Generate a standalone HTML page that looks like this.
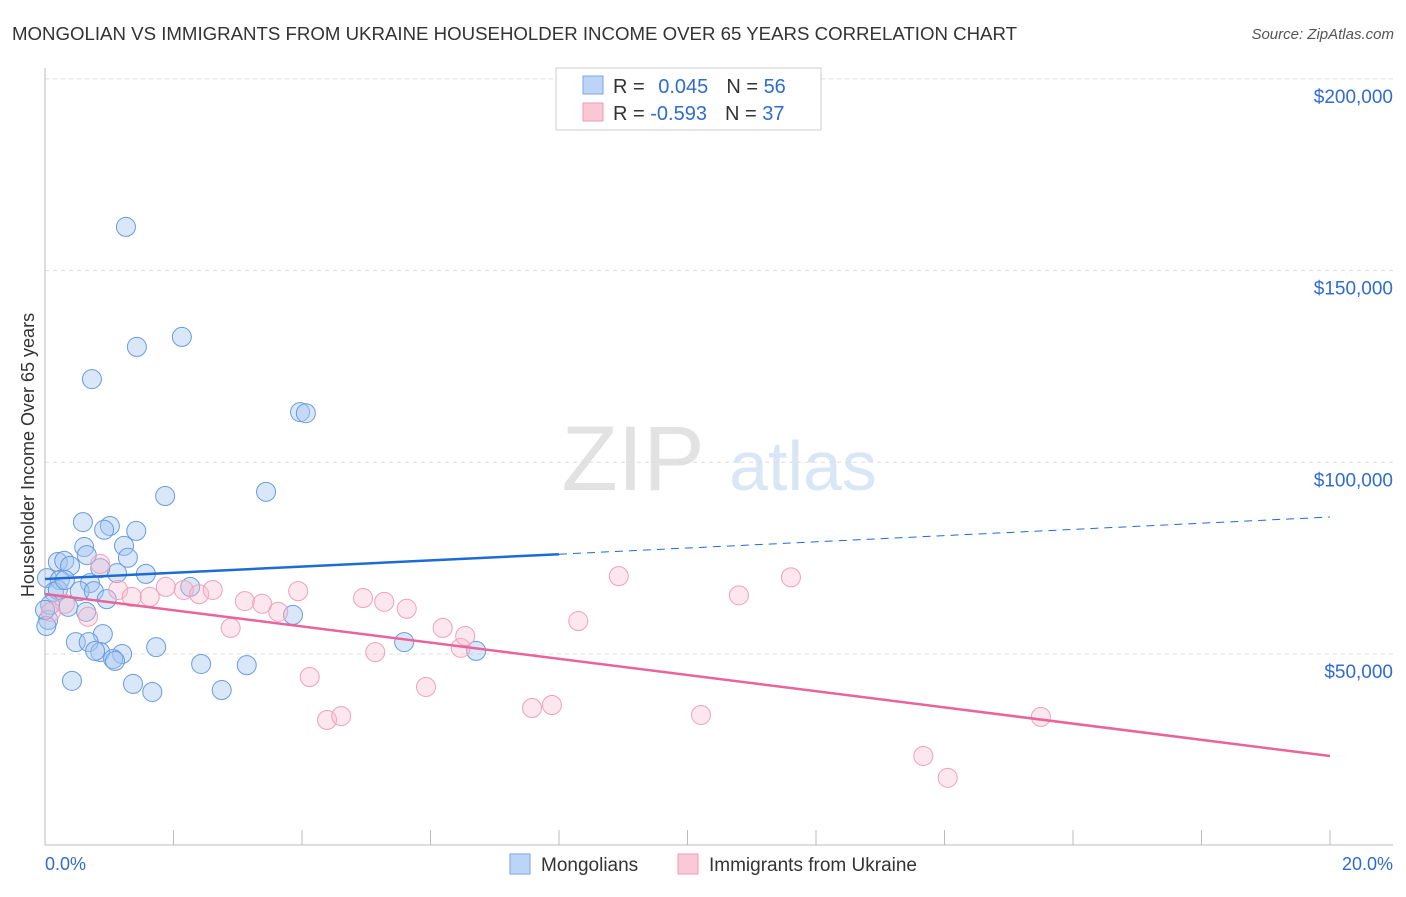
<!DOCTYPE html>
<html><head><meta charset="utf-8"><style>
body{margin:0;background:#fff;font-family:"Liberation Sans",sans-serif;}
svg text{font-family:"Liberation Sans",sans-serif;}
</style></head><body>
<svg id="c" width="1406" height="892" xmlns="http://www.w3.org/2000/svg">
<text x="12" y="40" font-size="18" fill="#333" textLength="1005" lengthAdjust="spacingAndGlyphs">MONGOLIAN VS IMMIGRANTS FROM UKRAINE HOUSEHOLDER INCOME OVER 65 YEARS CORRELATION CHART</text>
<text x="1394" y="39" font-size="15" fill="#555" font-style="italic" text-anchor="end">Source: ZipAtlas.com</text>
<text x="633" y="490" font-size="92" fill="#e2e2e2" font-family="Liberation Serif" text-anchor="middle">ZIP</text>
<text x="803" y="490" font-size="70" fill="#d9e6f6" text-anchor="middle">atlas</text>
<text transform="translate(34,455) rotate(-90)" font-size="18" fill="#333" text-anchor="middle">Householder Income Over 65 years</text>
<g id="grid"></g><g id="pts"></g><g id="lines"></g>
<rect x="556" y="68" width="265" height="62" fill="#fff" stroke="#ccc"/>
<rect x="583" y="76" width="20" height="18" fill="#bcd4f6" stroke="#7ba6e6"/>
<rect x="583" y="103" width="20" height="18" fill="#fac8d7" stroke="#f09ab5"/>
<text x="613" y="93" font-size="20" fill="#333">R = <tspan fill="#2f6cd0" dx="8">0.045</tspan><tspan dx="18">N = </tspan><tspan fill="#2f6cd0">56</tspan></text>
<text x="613" y="120" font-size="20" fill="#333">R = <tspan fill="#2f6cd0">-0.593</tspan><tspan dx="18">N = </tspan><tspan fill="#2f6cd0"> 37</tspan></text>
<rect x="510" y="854" width="20" height="20" fill="#bcd4f6" stroke="#7ba6e6"/>
<text x="541" y="871" font-size="19" fill="#333">Mongolians</text>
<rect x="678" y="854" width="20" height="20" fill="#fac8d7" stroke="#f09ab5"/>
<text x="709" y="871" font-size="19" fill="#333">Immigrants from Ukraine</text>
<text x="45" y="870" font-size="18" fill="#2f6cd0">0.0%</text>
<text x="1393" y="870" font-size="18" fill="#2f6cd0" text-anchor="end">20.0%</text>
</svg>
<script>
const yTicks=[50000,100000,150000,200000];
const yTickLabels=["$50,000","$100,000","$150,000","$200,000"];
const blueX=[1.26,1.43,2.13,0.73,3.97,4.06,1.87,3.44,0.59,1.01,0.92,1.42,0.61,1.23,0.20,0.30,0.39,1.29,1.57,1.12,0.86,0.03,0.23,0.70,0.54,0.14,2.26,0.76,0.96,0.36,0.64,0.05,0.02,3.86,0.90,0.48,0.68,0.86,0.78,1.20,1.06,1.09,1.73,2.43,3.14,5.59,6.71,0.42,1.37,1.67,2.75,0.20,0.08,0.0,0.31,0.65];
const blueY=[161.4,130.1,132.7,121.7,113.1,112.8,91.2,92.3,84.4,83.4,82.4,82.1,77.9,78.2,74.0,74.3,73.0,75.1,70.9,71.1,72.4,69.8,69.3,68.5,66.4,66.2,67.5,66.4,64.3,62.3,61.0,58.9,57.3,60.2,55.2,53.1,53.1,50.5,50.8,50.0,48.7,48.2,51.8,47.4,47.1,53.1,50.8,43.0,42.2,40.1,40.6,66.7,62.8,61.5,69.3,75.8];
const pinkX=[0.86,0.31,0.67,0.09,1.14,1.35,1.63,1.88,2.16,2.40,2.61,2.89,3.11,3.38,3.63,3.94,4.12,4.39,4.61,4.95,5.14,5.28,5.63,5.93,6.19,6.47,6.54,7.58,7.89,8.30,8.93,10.21,10.80,11.61,13.67,14.05,15.50];
const pinkY=[73.5,63.1,59.7,61.0,66.7,64.9,64.9,67.5,66.7,65.6,66.7,56.8,63.8,63.1,61.0,66.4,44.0,32.8,33.8,64.6,50.5,63.6,61.8,41.4,56.8,51.6,54.7,35.9,36.7,58.6,70.3,34.1,65.3,70.0,23.4,17.7,33.6];
const blueTrend=[69.56,85.73];
const pinkTrend=[65.65,23.39];
const NS="http://www.w3.org/2000/svg";
const X=v=>45+v*64.25, Y=v=>845.7-v/50000*191.7;
function mk(t,a,p){const e=document.createElementNS(NS,t);for(const k in a)e.setAttribute(k,a[k]);p.appendChild(e);return e;}
const g=document.getElementById('grid');
yTicks.forEach((t,i)=>{
 const l=mk('line',{x1:45,x2:1393,y1:Y(t),y2:Y(t),stroke:'#ddd','stroke-dasharray':'4,4'},g);
 
 
 const tx=mk('text',{x:1393,y:Y(t)+24,'font-size':19,fill:'#2f6cd0','text-anchor':'end'},g);
 tx.textContent=yTickLabels[i];
 
 
});
const ax=mk('line',{x1:45,x2:1393,y1:845,y2:845,stroke:'#bbb'},g);


const ay=mk('line',{x1:45,x2:45,y1:68,y2:845,stroke:'#bbb'},g);


for(let i=0;i<=10;i++){const t=mk('line',{x1:X(i*2),x2:X(i*2),y1:830,y2:845,stroke:'#bbb'},g);
 
 }
const p=document.getElementById('pts');
blueX.forEach((x,i)=>{const c=mk('circle',{cx:X(x),cy:Y(blueY[i]*1000),r:9.5,fill:'rgba(165,198,240,0.42)',stroke:'#6a9be0','stroke-width':1},p);
 
 });
pinkX.forEach((x,i)=>{const c=mk('circle',{cx:X(x),cy:Y(pinkY[i]*1000),r:9.5,fill:'rgba(248,185,205,0.35)',stroke:'#f0a0b8','stroke-width':1},p);
 
 });
const L=document.getElementById('lines');
const bAt=x=>blueTrend[0]+(blueTrend[1]-blueTrend[0])*x/20;
let l1=mk('line',{x1:X(0),y1:Y(bAt(0)*1000),x2:X(8),y2:Y(bAt(8)*1000),stroke:'#1f6bd6','stroke-width':2.5},L);


let l2=mk('line',{x1:X(8),y1:Y(bAt(8)*1000),x2:X(20),y2:Y(bAt(20)*1000),stroke:'#1f6bd6','stroke-width':1,'stroke-dasharray':'8,6'},L);


let l3=mk('line',{x1:X(0),y1:Y(pinkTrend[0]*1000),x2:X(20),y2:Y(pinkTrend[1]*1000),stroke:'#e8649a','stroke-width':2.5},L);


</script>
</body></html>
